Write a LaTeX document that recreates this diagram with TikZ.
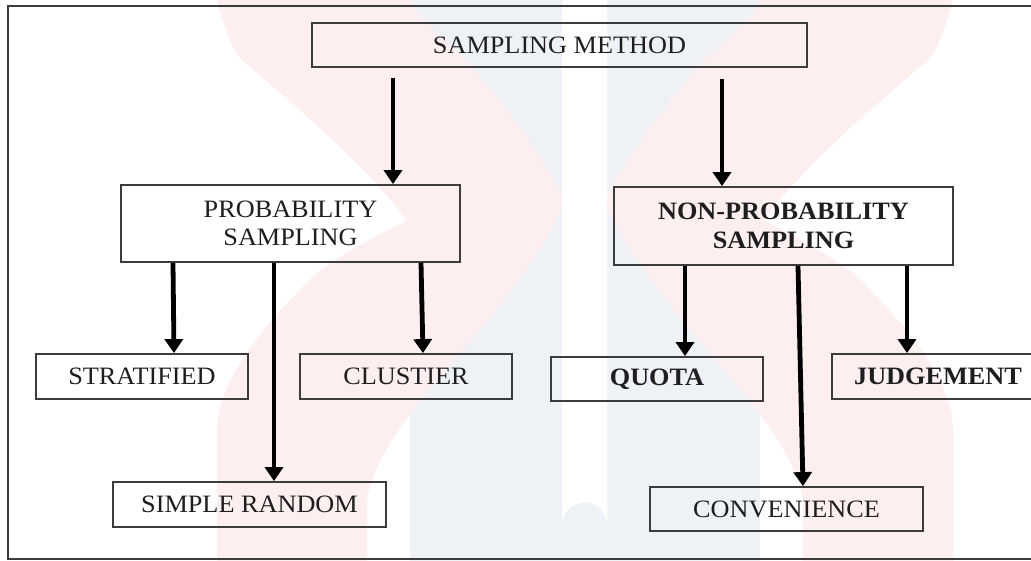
\documentclass[tikz,border=0pt]{standalone}
\usepackage{fontspec}
\setmainfont{Liberation Serif}[FakeStretch=1.05]
\usetikzlibrary{arrows.meta}
\definecolor{wmpink}{HTML}{FDEFEF}
\definecolor{wmblue}{HTML}{EEF2F7}
\definecolor{boxline}{HTML}{3C3C3C}
\definecolor{txt}{HTML}{1E1E1E}
\tikzset{
  box/.style={draw=boxline, line width=1.8pt, text=txt, inner sep=0pt, align=center,
    font=\fontsize{25}{28.5}\selectfont},
  boldbox/.style={box, font=\fontsize{25}{28.5}\selectfont\bfseries},
  arr/.style={line width=4.8pt, draw=black, -{Triangle[width=18pt,length=14pt]}}
}
\begin{document}
\begin{tikzpicture}[x=1pt,y=-1pt]
\useasboundingbox (0,0) rectangle (1031,561);
\clip (0,0) rectangle (1031,561);
\fill[white] (0,0) rectangle (1031,561);
% watermark (faint logo)
\fill[wmblue] (410,0) rectangle (760,561);
\fill[wmpink] (217,0) .. controls (225,30) and (235,55) .. (242,60)
  .. controls (300,110) and (360,160) .. (407,220)
  .. controls (360,245) and (320,265) .. (300,290)
  .. controls (250,340) and (217,390) .. (217,430) -- (217,561) -- (367,561) -- (367,500)
  .. controls (375,450) and (420,400) .. (480,330)
  .. controls (520,280) and (550,240) .. (565,200)
  .. controls (540,150) and (500,100) .. (466,60)
  .. controls (440,35) and (415,15) .. (410,0) -- cycle;
\begin{scope}[xshift=1170pt, xscale=-1]
\fill[wmpink] (217,0) .. controls (225,30) and (235,55) .. (242,60)
  .. controls (300,110) and (360,160) .. (407,220)
  .. controls (360,245) and (320,265) .. (300,290)
  .. controls (250,340) and (217,390) .. (217,430) -- (217,561) -- (367,561) -- (367,500)
  .. controls (375,450) and (420,400) .. (480,330)
  .. controls (520,280) and (550,240) .. (565,200)
  .. controls (540,150) and (500,100) .. (466,60)
  .. controls (440,35) and (415,15) .. (410,0) -- cycle;
\end{scope}
\fill[white] (562,-5) -- (562,525) arc[start angle=180, end angle=360, radius=22.5] -- (607,-5) -- cycle;
% frame
\draw[boxline, line width=1.8pt] (8,6) rectangle (1045,559);
% nodes
\node[box, minimum width=495pt, minimum height=44pt] (sm) at (559.5,45) {SAMPLING METHOD};
\node[box, minimum width=339pt, minimum height=77pt] (ps) at (290.5,223.5) {PROBABILITY\\SAMPLING};
\node[boldbox, minimum width=339pt, minimum height=78pt] (nps) at (783.5,226) {NON-PROBABILITY\\SAMPLING};
\node[box, minimum width=212pt, minimum height=45pt] (strat) at (142,376.5) {STRATIFIED};
\node[box, minimum width=212pt, minimum height=45pt] (clust) at (406,376.5) {CLUSTIER};
\node[box, minimum width=273pt, minimum height=45pt] (sr) at (249.5,504.5) {SIMPLE RANDOM};
\node[boldbox, minimum width=212pt, minimum height=44pt] (quota) at (657,379) {QUOTA};
\node[boldbox, minimum width=212pt, minimum height=45pt] (judg) at (938,376.5) {JUDGEMENT};
\node[box, minimum width=273pt, minimum height=44pt] (conv) at (786.5,509) {CONVENIENCE};
% arrows
\draw[arr] ([xshift=-166.5pt,yshift=-10pt]sm.south) -- ([xshift=102.5pt]ps.north);
\draw[arr] ([xshift=162.5pt,yshift=-11pt]sm.south) -- ([xshift=-61.5pt]nps.north);
\draw[arr] ([xshift=-117.5pt]ps.south) -- ([xshift=32pt]strat.north);
\draw[arr] ([xshift=-16.5pt]ps.south) -- ([xshift=24.5pt]sr.north);
\draw[arr] ([xshift=130.5pt]ps.south) -- ([xshift=17pt]clust.north);
\draw[arr] ([xshift=-98.5pt]nps.south) -- ([xshift=28pt]quota.north);
\draw[arr] ([xshift=14.5pt]nps.south) -- ([xshift=16.5pt]conv.north);
\draw[arr] ([xshift=123.5pt]nps.south) -- ([xshift=-31pt]judg.north);
\end{tikzpicture}
\end{document}
